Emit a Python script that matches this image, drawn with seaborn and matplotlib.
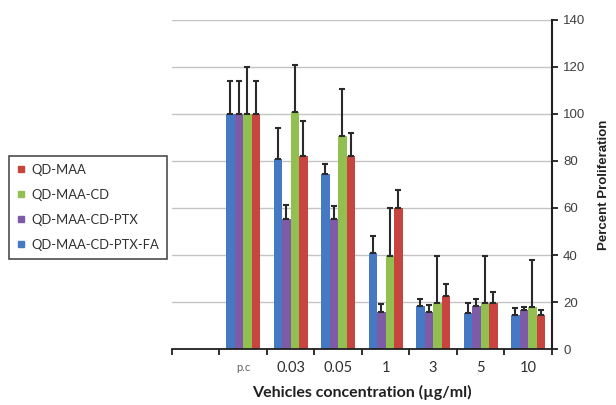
import numpy as np
import pandas as pd
import matplotlib
matplotlib.use("Agg")
import matplotlib.pyplot as plt
import seaborn as sns
from matplotlib.ticker import FixedLocator, NullFormatter
from matplotlib.lines import Line2D

# ---- data ----
categories = ["p.c", "0.03", "0.05", "1", "3", "5", "10"]
series_names = ["QD-MAA-CD-PTX-FA", "QD-MAA-CD-PTX", "QD-MAA-CD", "QD-MAA"]
fa_vals   = [100, 81, 74.5, 41, 18.3, 15.5, 14.7]
ptx_vals  = [100, 55.5, 55.5, 15.6, 15.6, 18.2, 16.6]
cd_vals   = [100, 101, 90.6, 39.7, 19.4, 19.4, 18]
maa_vals  = [100, 82.3, 82, 60, 22.6, 19.4, 14.5]
fa_err    = [14, 13.2, 4.4, 7, 3.1, 3.9, 2.9]
ptx_err   = [14, 5.6, 5.3, 3.7, 3.0, 2.9, 1.3]
cd_err    = [20, 20, 19.9, 20.4, 20.2, 20.2, 19.9]
maa_err   = [14, 14.7, 10, 7.5, 5.1, 4.7, 2.0]
y_ticks = [0, 20, 40, 60, 80, 100, 120, 140]
colors = ["#4679C4", "#7E5BA6", "#92C050", "#C8453F"]

values = [fa_vals, ptx_vals, cd_vals, maa_vals]
errors = [fa_err, ptx_err, cd_err, maa_err]

df = pd.DataFrame({
    "conc": np.tile(categories, len(series_names)),
    "series": np.repeat(series_names, len(categories)),
    "value": np.concatenate(values),
})

sns.set_style("white")
plt.rcParams["font.family"] = ["Liberation Sans", "DejaVu Sans"]

fig = plt.figure(figsize=(6.16, 4.05), dpi=100)
ax = fig.add_axes([0.279, 0.138, 0.617, 0.813])

sns.barplot(data=df, x="conc", y="value", hue="series", order=categories,
            hue_order=series_names, palette=colors, width=0.72, gap=0,
            errorbar=None, saturation=1, ax=ax, legend=True, zorder=2,
            linewidth=0)

for cont, errs in zip(ax.containers, errors):
    xs = [p.get_x() + p.get_width() / 2 for p in cont.patches]
    hs = [p.get_height() for p in cont.patches]
    ax.errorbar(xs, hs, yerr=[np.zeros(len(errs)), errs], fmt="none",
                ecolor="#2a2a2a", elinewidth=1.5, capsize=2.5, capthick=1.5,
                zorder=3)

ax.set_xlim(-1.5, len(categories) - 0.5)
ax.set_ylim(0, 140)
ax.yaxis.tick_right()
ax.yaxis.set_label_position("right")
ax.set_yticks(y_ticks)
ax.set_yticklabels([str(t) for t in y_ticks], fontsize=9.5, color="#404040")
ax.tick_params(axis="y", direction="out", length=4, width=1.3, color="#202020",
               right=True, left=False, pad=4)
ax.grid(axis="y", color="#c4c4c4", linewidth=1, zorder=0)
ax.set_axisbelow(True)

ax.set_xticks(range(len(categories)))
ax.set_xticklabels([])
ax.tick_params(axis="x", which="major", length=0, pad=10)
ax.xaxis.set_minor_locator(FixedLocator(np.arange(-1.5, len(categories), 1.0)))
ax.xaxis.set_minor_formatter(NullFormatter())
ax.tick_params(axis="x", which="minor", direction="out", length=4, width=1.3,
               color="#202020", bottom=True)
for i, c in enumerate(categories):
    if c == "p.c":
        ax.text(i, -8.0, c, ha="center", va="center", fontsize=8, color="#606060",
                family=["Lato", "DejaVu Sans"])
    else:
        ax.text(i, -8.0, c, ha="center", va="center", fontsize=10.5, color="#303030",
                family=["Lato", "DejaVu Sans"])

ax.set_xlabel("")
fig.text(0.5 * (0.279 + 0.896), 0.032, "Vehicles concentration (µg/ml)",
         ha="center", va="center", fontsize=11.5, fontweight="bold",
         color="#202020", family=["Lato", "DejaVu Sans"])
ax.set_ylabel("Percent Proliferation", fontsize=9.5, fontweight="bold",
              color="#202020", labelpad=9)

for s in ["top", "left"]:
    ax.spines[s].set_visible(False)
ax.spines["right"].set_color("#202020")
ax.spines["right"].set_linewidth(1.5)
ax.spines["bottom"].set_color("#202020")
ax.spines["bottom"].set_linewidth(1.3)

# legend
ax.get_legend().remove()
handles = [Line2D([], [], marker="s", linestyle="none", markersize=5,
                  markerfacecolor=col, markeredgecolor=col)
           for col in colors]
labels = list(series_names)
leg = fig.legend(handles[::-1], labels[::-1], loc="upper left",
                 bbox_to_anchor=(0.0146, 0.615), frameon=True, fancybox=False,
                 edgecolor="#202020", handlelength=0.6, borderaxespad=0,
                 handletextpad=0.5, labelspacing=1.0, borderpad=0.6,
                 prop={"family": ["Lato", "DejaVu Sans"], "size": 9.4})
leg.get_frame().set_linewidth(1.2)
for t in leg.get_texts():
    t.set_color("#303030")

fig.savefig("out.png", dpi=100)
